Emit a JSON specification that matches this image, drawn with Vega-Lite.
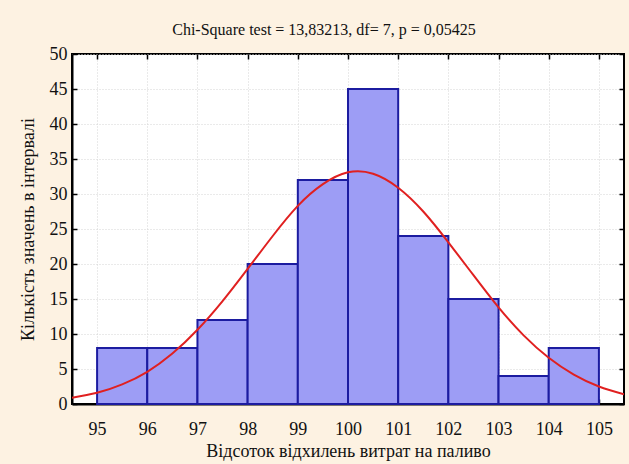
{
  "$schema": "https://vega.github.io/schema/vega-lite/v6.json",
  "autosize": "none",
  "width": 552,
  "height": 350,
  "padding": {"left": 72, "top": 54, "right": 5, "bottom": 60},
  "background": "#fdf2e2",
  "title": {
    "text": "Chi-Square test = 13,83213, df= 7, p = 0,05425",
    "font": "Liberation Serif",
    "fontSize": 16,
    "fontWeight": "normal",
    "color": "#111111",
    "offset": 7,
    "dx": -24
  },
  "config": {
    "view": {"stroke": "#000000", "strokeWidth": 2, "fill": "#ffffff"},
    "axis": {
      "labelFont": "Liberation Serif",
      "titleFont": "Liberation Serif",
      "labelFontSize": 18,
      "titleFontSize": 18,
      "titleFontWeight": "normal",
      "labelColor": "#111111",
      "titleColor": "#111111",
      "domainColor": "#000000",
      "domainWidth": 2,
      "tickColor": "#000000",
      "tickWidth": 1.5,
      "gridColor": "#d4d4d4",
      "gridDash": [1, 2],
      "gridWidth": 1
    }
  },
  "datasets": {
    "bars": [
      {"from": 95, "to": 96, "count": 8},
      {"from": 96, "to": 97, "count": 8},
      {"from": 97, "to": 98, "count": 12},
      {"from": 98, "to": 99, "count": 20},
      {"from": 99, "to": 100, "count": 32},
      {"from": 100, "to": 101, "count": 45},
      {"from": 101, "to": 102, "count": 24},
      {"from": 102, "to": 103, "count": 15},
      {"from": 103, "to": 104, "count": 4},
      {"from": 104, "to": 105, "count": 8}
    ],
    "curve": [
      {"x": 94.5, "y": 0.9},
      {"x": 95, "y": 1.6},
      {"x": 95.5, "y": 2.8},
      {"x": 96, "y": 4.6},
      {"x": 96.5, "y": 7.2},
      {"x": 97, "y": 10.6},
      {"x": 97.5, "y": 14.7},
      {"x": 98, "y": 19.3},
      {"x": 98.5, "y": 24.0},
      {"x": 99, "y": 28.3},
      {"x": 99.5, "y": 31.4},
      {"x": 100, "y": 33.1},
      {"x": 100.5, "y": 32.9},
      {"x": 101, "y": 30.9},
      {"x": 101.5, "y": 27.5},
      {"x": 102, "y": 23.1},
      {"x": 102.5, "y": 18.4},
      {"x": 103, "y": 13.8},
      {"x": 103.5, "y": 9.8},
      {"x": 104, "y": 6.6},
      {"x": 104.5, "y": 4.2},
      {"x": 105, "y": 2.5},
      {"x": 105.5, "y": 1.4}
    ]
  },
  "layer": [
    {
      "data": {"name": "bars"},
      "mark": {"type": "bar", "fill": "#9d9df5", "stroke": "#1c1ca0", "strokeWidth": 2},
      "encoding": {
        "x": {
          "field": "from", "type": "quantitative",
          "scale": {"domain": [94.5, 105.5], "nice": false, "zero": false},
          "axis": {
            "orient": "bottom",
            "title": "Відсоток відхилень витрат на паливо",
            "values": [95, 96, 97, 98, 99, 100, 101, 102, 103, 104, 105],
            "labelFont": "Liberation Serif",
            "titleFont": "Liberation Serif",
            "labelFontSize": 18,
            "titleFontSize": 18,
            "tickSize": -5,
            "labelPadding": 21,
            "titlePadding": 4,
            "grid": true
          }
        },
        "x2": {"field": "to"},
        "y": {
          "field": "count", "type": "quantitative",
          "scale": {"domain": [0, 50], "nice": false},
          "axis": {
            "orient": "left",
            "title": "Кількість значень в інтервалі",
            "values": [0, 5, 10, 15, 20, 25, 30, 35, 40, 45, 50],
            "labelFont": "Liberation Serif",
            "titleFont": "Liberation Serif",
            "labelFontSize": 18,
            "titleFontSize": 18,
            "tickSize": -5,
            "labelPadding": 10,
            "titlePadding": 12,
            "grid": true
          }
        },
        "y2": {"datum": 0}
      }
    },
    {
      "data": {"name": "curve"},
      "mark": {"type": "line", "color": "#e02020", "strokeWidth": 2, "interpolate": "natural", "clip": true},
      "encoding": {
        "x": {
          "field": "x", "type": "quantitative",
          "axis": {
            "orient": "top", "title": null, "labels": false,
            "values": [95, 96, 97, 98, 99, 100, 101, 102, 103, 104, 105],
            "tickSize": -5, "grid": false, "domain": false
          }
        },
        "y": {
          "field": "y", "type": "quantitative",
          "axis": {
            "orient": "right", "title": null, "labels": false,
            "values": [0, 5, 10, 15, 20, 25, 30, 35, 40, 45, 50],
            "tickSize": -5, "grid": false, "domain": false
          }
        }
      }
    }
  ],
  "resolve": {"axis": {"x": "independent", "y": "independent"}}
}
